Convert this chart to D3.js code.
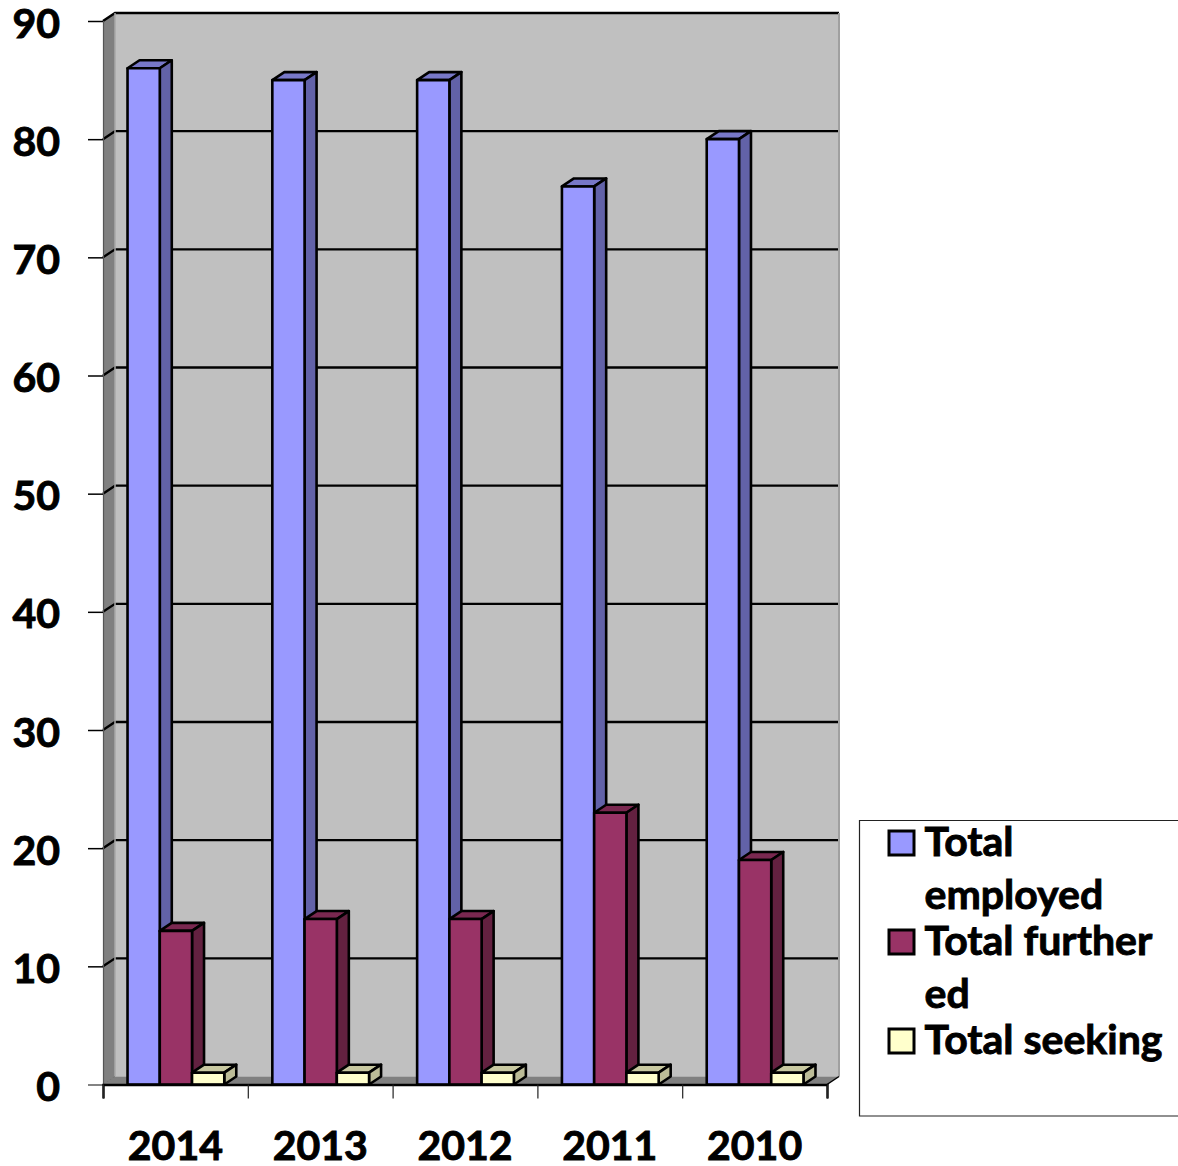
<!DOCTYPE html>
<html>
<head>
<meta charset="utf-8">
<script src="https://cdn.jsdelivr.net/npm/d3@7"></script>
<style>
  html, body { margin: 0; padding: 0; background: #fff; }
  svg { display: block; }
  text { font-family: Lato, "Open Sans", sans-serif; font-weight: 700; fill: #000; stroke: #000; stroke-width: 0.9px; }
</style>
</head>
<body>
<svg id="chart" width="1178" height="1166"></svg>
<script>
const years = ['2014', '2013', '2012', '2011', '2010'];
const employed = [86, 85, 85, 76, 80];
const further = [13, 14, 14, 23, 19];
const seeking = [1, 1, 1, 1, 1];
const yTicks = [0, 10, 20, 30, 40, 50, 60, 70, 80, 90];
const seriesNames = ['Total employed', 'Total further ed', 'Total seeking'];
const legendLines = [['Total', 'employed'], ['Total further', 'ed'], ['Total seeking']];

const colors = [
  { front: '#9999ff', top: '#7878c8', side: '#6262a8' },
  { front: '#993366', top: '#7a2850', side: '#632140' },
  { front: '#ffffcc', top: '#c8c8a0', side: '#bcbc98' }
];

// depth of the 3d box
const dx = 12;
const dy = -8;

const svg = d3.select('#chart');

const x = d3.scaleBand().domain(years).range([103, 827]);
const xEdges = d3.scaleLinear().domain([0, years.length]).range([103, 827]);
const y = d3.scaleLinear().domain([0, 90]).range([1084.5, 21]);
const inner = d3.scaleBand()
  .domain(seriesNames)
  .range([0.5, x.bandwidth() + 0.5])
  .paddingInner(0)
  .paddingOuter(0.745);

const poly = pts => pts.map(p => p.join(',')).join(' ');

// walls
const x0 = x.range()[0];
const x1 = x.range()[1];
const y0 = y(0);
const yMax = y(90);

svg.append('polygon')
  .attr('points', poly([[x0 + dx, yMax + dy], [x1 + dx, yMax + dy], [x1 + dx, y0 + dy], [x0 + dx, y0 + dy]]))
  .attr('fill', '#c0c0c0');
svg.append('polygon')
  .attr('points', poly([[x0, yMax], [x0 + dx, yMax + dy], [x0 + dx, y0 + dy], [x0, y0]]))
  .attr('fill', '#808080');
svg.append('polygon')
  .attr('points', poly([[x0, y0], [x0 + dx, y0 + dy], [x1 + dx, y0 + dy], [x1, y0]]))
  .attr('fill', '#808080');

// gridlines
yTicks.slice(1).forEach(t => {
  svg.append('polyline')
    .attr('points', poly([[x0, y(t)], [x0 + dx, y(t) + dy], [x1 + dx, y(t) + dy]]))
    .attr('fill', 'none')
    .attr('stroke', '#000')
    .attr('stroke-width', 2.4);
});

// wall edges
svg.append('line')
  .attr('x1', x0 + dx).attr('x2', x0 + dx)
  .attr('y1', yMax + dy).attr('y2', y0 + dy)
  .attr('stroke', '#a8a8a8').attr('stroke-width', 1.5);
svg.append('line')
  .attr('x1', x1 + dx).attr('x2', x1 + dx)
  .attr('y1', yMax + dy).attr('y2', y0 + dy)
  .attr('stroke', '#a0a0a0').attr('stroke-width', 2);
svg.append('polyline')
  .attr('points', poly([[x1, y0], [x1 + dx, y0 + dy]]))
  .attr('fill', 'none').attr('stroke', '#000').attr('stroke-width', 1.5);
svg.append('polyline')
  .attr('points', poly([[x0, y0], [x0 + dx, y0 + dy]]))
  .attr('fill', 'none').attr('stroke', '#777').attr('stroke-width', 1);

function drawBar(cx, w, value, c) {
  const top = y(value);
  const g = svg.append('g')
    .attr('stroke', '#000')
    .attr('stroke-width', 2.6)
    .attr('stroke-linejoin', 'round');
  g.append('polygon')
    .attr('points', poly([[cx, top], [cx + dx, top + dy], [cx + w + dx, top + dy], [cx + w, top]]))
    .attr('fill', c.top);
  g.append('polygon')
    .attr('points', poly([[cx + w, top], [cx + w + dx, top + dy], [cx + w + dx, y0 + dy], [cx + w, y0]]))
    .attr('fill', c.side);
  g.append('rect')
    .attr('x', cx).attr('y', top)
    .attr('width', w).attr('height', y0 - top)
    .attr('fill', c.front);
}

[employed, further, seeking].forEach((vals, s) => {
  years.forEach((yr, i) => {
    drawBar(x(yr) + inner(seriesNames[s]), inner.bandwidth(), vals[i], colors[s]);
  });
});

// axes
const yAxis = svg.append('g')
  .attr('transform', `translate(${x0},0)`)
  .call(d3.axisLeft(y).tickValues(yTicks).tickSize(15).tickPadding(28));
yAxis.select('.domain').attr('stroke', '#555').attr('stroke-width', 1.2);
yAxis.selectAll('.tick line').attr('stroke', '#000').attr('stroke-width', 1.5);
yAxis.selectAll('.tick').filter(d => d === 0).select('line').attr('stroke', '#777');
yAxis.selectAll('text').attr('font-size', 41).attr('dy', '0.39em');

const xTicks = svg.append('g')
  .attr('transform', `translate(0,${y0})`)
  .call(d3.axisBottom(xEdges).tickValues(d3.range(years.length + 1)).tickSize(14).tickFormat(''));
xTicks.select('.domain').attr('stroke', '#000').attr('stroke-width', 2.4);
xTicks.selectAll('.tick line').attr('stroke', '#222').attr('stroke-width', 1.2);

const xLabels = svg.append('g')
  .attr('transform', `translate(0,${y0})`)
  .call(d3.axisBottom(x).tickSize(0).tickPadding(46));
xLabels.select('.domain').remove();
xLabels.selectAll('text').attr('font-size', 41);

// legend
const legend = svg.append('g');
legend.append('path')
  .attr('d', 'M1178,820.5H859.5V1116H1178')
  .attr('fill', '#fff')
  .attr('stroke', '#222')
  .attr('stroke-width', 1.2);

const swatchTop = [831, 930, 1029];
const lineBase = [[856, 909], [955, 1008], [1054]];
legendLines.forEach((lines, i) => {
  legend.append('rect')
    .attr('x', 889).attr('y', swatchTop[i])
    .attr('width', 25).attr('height', 24)
    .attr('fill', colors[i].front)
    .attr('stroke', '#000')
    .attr('stroke-width', 3);
  lines.forEach((l, j) => {
    legend.append('text')
      .attr('x', 924.5)
      .attr('y', lineBase[i][j])
      .attr('font-size', 41)
      .text(l);
  });
});
</script>
</body>
</html>
